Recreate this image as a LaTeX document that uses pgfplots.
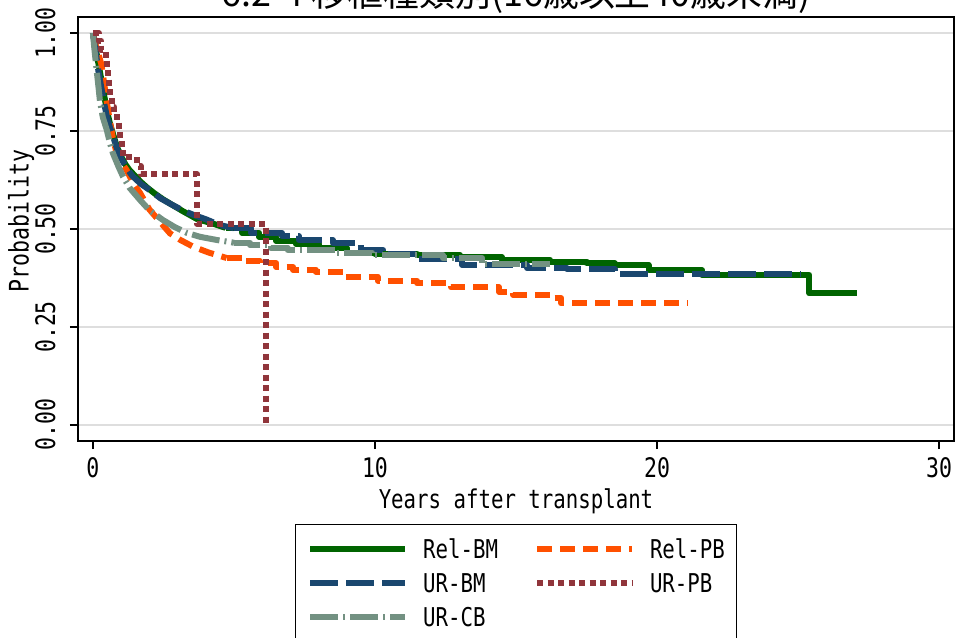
\documentclass[border=0pt]{standalone}
\usepackage{pgfplots}
\pgfplotsset{compat=1.18}
\usepackage{fontspec}
\setmainfont[FakeStretch=0.8]{DejaVu Sans Mono}
\newfontfamily\jp{Noto Sans CJK JP}
\definecolor{relbm}{RGB}{0,100,0}
\definecolor{urbm}{RGB}{26,71,111}
\definecolor{urcb}{RGB}{115,145,130}
\definecolor{relpb}{RGB}{255,80,0}
\definecolor{urpb}{RGB}{144,53,59}
\begin{document}
\begin{tikzpicture}
\begin{axis}[
  scale only axis, width=876bp, height=424bp,
  xmin=-0.53, xmax=30.53, ymin=-0.041, ymax=1.041,
  xtick={0,10,20,30}, ytick={0,0.25,0.5,0.75,1},
  yticklabels={0.00,0.25,0.50,0.75,1.00},
  /pgf/number format/assume math mode=true,
  tick align=outside, tick pos=left, major tick length=8bp,
  every tick/.style={black, line width=1.2bp},
  axis line style={line width=1.3bp, black},
  ymajorgrids, grid style={line width=2.5bp, black!13},
  tick label style={font=\fontsize{27}{30}\selectfont},
  xticklabel style={yshift=-5bp},
  yticklabel style={rotate=90, anchor=south, yshift=11bp},
  xlabel={Years after transplant}, ylabel={Probability},
  xlabel style={font=\fontsize{26}{30}\selectfont, yshift=-4bp},
  ylabel style={font=\fontsize{27}{30}\selectfont, yshift=-6bp, xshift=8bp},
  title={6.2-4 移植種類別(16歳以上40歳未満)},
  title style={font=\jp\fontsize{36}{40}\selectfont, anchor=base, at={(0.5,1)}, yshift=5bp},
  legend columns=2,
  legend cell align=left,
  legend style={at={(0.5,-0.1958)}, anchor=north, draw=black, line width=1bp,
    font=\fontsize{26}{30}\selectfont, inner xsep=12bp, inner ysep=16bp,
    nodes={inner sep=0bp, text height=18bp, text depth=6bp},
    row sep=10bp,
    /tikz/every odd column/.append style={column sep=15bp},
    /tikz/every even column/.append style={column sep=36bp}},
  legend image code/.code={\draw[#1] (0bp,4bp) -- (95bp,4bp);},
  every axis plot/.append style={line width=6bp, line join=round, line cap=butt},
]
\addlegendimage{relbm, solid}
\addlegendentry{Rel-BM}
\addlegendimage{relpb, dash pattern=on 15bp off 8bp}
\addlegendentry{Rel-PB}
\addlegendimage{urbm, dash pattern=on 28bp off 8bp}
\addlegendentry{UR-BM}
\addlegendimage{urpb, dash pattern=on 6bp off 4.5bp}
\addlegendentry{UR-PB}
\addlegendimage{urcb, dash pattern=on 28bp off 5bp on 2bp off 5bp}
\addlegendentry{UR-CB}

% Rel-BM
\addplot[relbm, solid, sharp plot, forget plot] coordinates {
(0,1.0) (0.1,0.96) (0.2,0.92) (0.3,0.88) (0.4,0.84) (0.5,0.80) (0.6,0.77)
(0.7,0.745) (0.85,0.71) (1.0,0.685) (1.15,0.665) (1.3,0.65) (1.5,0.635)
(1.7,0.62) (1.9,0.607) (2.2,0.59) (2.5,0.575) (2.8,0.562) (3.2,0.545)
(3.7,0.525) (4.2,0.515) (4.7,0.503)};
\addplot[relbm, solid, const plot, forget plot] coordinates {
(4.7,0.503) (5.3,0.49) (5.9,0.48) (6.5,0.47)
(7.2,0.462) (8.0,0.452) (9.0,0.44) (10.0,0.437) (11.5,0.434) (13.0,0.428)
(14.5,0.422) (16.2,0.417) (17.5,0.412) (18.5,0.408) (19.7,0.395)
(21.6,0.383) (25.4,0.336) (27.1,0.336)};

% Rel-PB
\addplot[relpb, dash pattern=on 15bp off 8bp, sharp plot, forget plot] coordinates {
(0,1.0) (0.1,0.97) (0.2,0.945) (0.3,0.92) (0.4,0.87) (0.5,0.82) (0.6,0.775)
(0.7,0.735) (0.84,0.693) (1.0,0.67) (1.19,0.651) (1.4,0.62) (1.67,0.592)
(2.0,0.55) (2.38,0.518) (2.73,0.489) (3.1,0.472) (3.55,0.455) (4.1,0.44)
(4.74,0.426)};
\addplot[relpb, dash pattern=on 15bp off 8bp, const plot, forget plot] coordinates {
(4.74,0.426) (5.3,0.418) (5.92,0.413) (6.5,0.403) (7.1,0.396) (7.9,0.391)
(8.9,0.378) (10.1,0.368) (11.5,0.361) (12.7,0.351) (14.4,0.34) (14.9,0.332)
(16.3,0.324) (16.6,0.31) (21.1,0.31)};

% UR-BM
\addplot[urbm, dash pattern=on 28bp off 8bp, sharp plot, forget plot] coordinates {
(0,1.0) (0.1,0.95) (0.2,0.9) (0.3,0.86) (0.4,0.82) (0.5,0.785) (0.6,0.76)
(0.7,0.74) (0.85,0.705) (1.0,0.68) (1.2,0.655) (1.4,0.635) (1.7,0.615)
(2.0,0.6) (2.4,0.578) (2.8,0.562) (3.2,0.547) (3.6,0.535) (4.0,0.525)
(4.5,0.51) (5.0,0.502)};
\addplot[urbm, dash pattern=on 28bp off 8bp, const plot, forget plot] coordinates {
(5.0,0.502) (5.6,0.49) (6.7,0.482) (7.3,0.472) (8.5,0.464)
(9.5,0.446) (10.3,0.436) (11.5,0.423) (13.1,0.408) (15.4,0.40) (16.8,0.398)
(18.5,0.385) (25.1,0.385)};

% UR-CB
\addplot[urcb, dash pattern=on 28bp off 5bp on 2bp off 5bp, sharp plot, forget plot] coordinates {
(0,1.0) (0.05,0.96) (0.13,0.906) (0.2,0.86) (0.25,0.825) (0.35,0.785)
(0.49,0.753) (0.6,0.72) (0.71,0.693) (0.9,0.66) (1.07,0.633) (1.3,0.605)
(1.67,0.574) (2.0,0.548) (2.48,0.523) (2.9,0.505) (3.33,0.49) (3.8,0.48)
(4.39,0.472) (5.0,0.465)};
\addplot[urcb, dash pattern=on 28bp off 5bp on 2bp off 5bp, const plot, forget plot] coordinates {
(5.0,0.465) (5.57,0.459) (6.3,0.451) (6.9,0.446) (8.6,0.44)
(9.9,0.434) (12.4,0.426) (13.8,0.41) (16.2,0.41)};

% UR-PB
\addplot[urpb, dash pattern=on 6bp off 4.5bp, const plot, forget plot] coordinates {
(0,1.0) (0.2,0.98) (0.3,0.957) (0.45,0.935) (0.51,0.914) (0.55,0.89)
(0.58,0.863) (0.62,0.84) (0.66,0.812) (0.76,0.795) (0.86,0.778) (0.92,0.75)
(0.96,0.727) (1.02,0.705) (1.07,0.683) (1.55,0.661) (1.7,0.640) (3.69,0.513)
(6.13,0.0)};

\coordinate (bl) at (rel axis cs:0,0);
\coordinate (tr) at (rel axis cs:1,1);
\end{axis}
\pgfresetboundingbox
\useasboundingbox ([shift={(-78bp,-197bp)}]bl) rectangle ([shift={(1bp,17bp)}]tr);
\end{tikzpicture}
\end{document}
